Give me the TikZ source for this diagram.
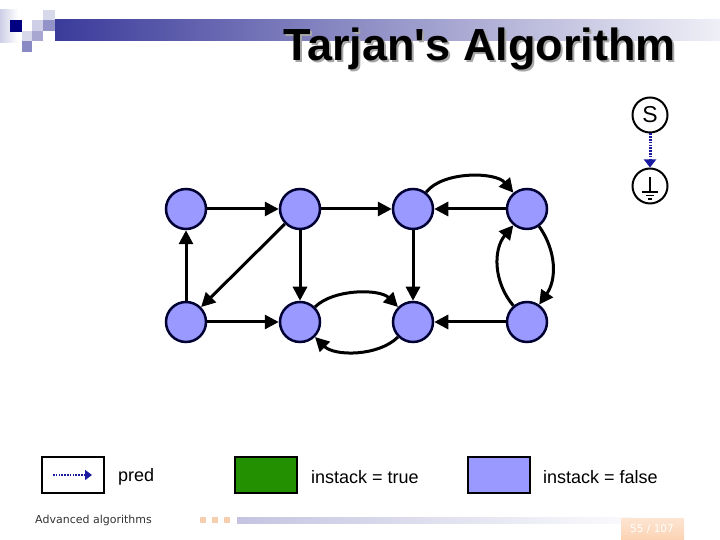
\documentclass[tikz,border=0pt]{standalone}
\usepackage{fontspec}
\setmainfont{Liberation Sans}
\newfontfamily\footfont{DejaVu Sans}
\usetikzlibrary{arrows.meta}
\definecolor{vfill}{HTML}{9999FF}
\definecolor{vdraw}{HTML}{000033}
\definecolor{greenbox}{HTML}{229000}
\definecolor{predblue}{HTML}{1A1AA0}
\definecolor{barblue}{HTML}{3B3B9B}
\definecolor{peach}{HTML}{FBD2B2}
\definecolor{sqorange}{HTML}{F5CFAE}
\definecolor{footgray}{HTML}{333333}
\begin{document}
\begin{tikzpicture}[x=1pt,y=1pt,
  vert/.style={circle, fill=vfill, draw=vdraw, line width=2.5pt, minimum size=40pt, inner sep=0pt},
  edge/.style={line width=3pt, -{Triangle[length=14pt,width=14pt]}},
  predarrow/.style={predblue, line width=3pt, dash pattern=on 1.6pt off 1.2pt, -{Triangle[length=8pt,width=12pt]}},
  specnode/.style={circle, draw=black, line width=2pt, minimum size=35pt, inner sep=0pt, fill=white},
  legbox/.style={draw=black, line width=2.5pt, minimum width=62pt, minimum height=36pt, inner sep=0pt},
  legtext/.style={anchor=west, font=\fontsize{18}{20}\selectfont, inner sep=0pt},
  titlefont/.style={font=\bfseries\fontsize{45}{50}\selectfont}]
\useasboundingbox (0,0) rectangle (720,540);
% header decoration
\shade[left color=barblue, right color=barblue!8] (55,499) rectangle (720,520);
\shade[left color=barblue!25, right color=white] (0,497) rectangle (18,530);
\fill[barblue!20] (43,519) rectangle (55,530);
\fill[barblue!55] (43,509) rectangle (55,520);
\fill[barblue!25] (32,509) rectangle (43,520);
\fill[blue!50!black] (10,508) rectangle (22,520);
\fill[barblue!20] (22,499) rectangle (32,509);
\fill[barblue!45] (32,499) rectangle (43,509);
\fill[barblue!60] (22,488) rectangle (32,499);
% title
\node[anchor=base west, inner sep=0pt, text=black!35, titlefont] (tshadow) at (285,477) {Tarjan\textquotesingle s Algorithm};
\node[anchor=base west, inner sep=0pt, titlefont] (title) at (283,479) {Tarjan\textquotesingle s Algorithm};
% S and ground
\node[specnode, font=\fontsize{23}{25}\selectfont] (S) at (650,425) {S};
\node[specnode] (G) at (650,354) {};
\draw[line width=1.5pt] (650,363) -- (650,348);
\draw[line width=1.5pt] (642,348) -- (658,348);
\draw[line width=1.2pt] (646,344.5) -- (654,344.5);
\draw[line width=1.2pt] (648,341) -- (652,341);
\draw[predarrow] (S) -- (G);
% graph
\node[vert] (a1) at (186,331) {};
\node[vert] (a2) at (300,331) {};
\node[vert] (a3) at (413,331) {};
\node[vert] (a4) at (527,331) {};
\node[vert] (b1) at (186,218) {};
\node[vert] (b2) at (300,218) {};
\node[vert] (b3) at (413,218) {};
\node[vert] (b4) at (527,218) {};
\draw[edge] (a1) -- (a2);
\draw[edge] (a2) -- (a3);
\draw[edge] (a4) -- (a3);
\draw[edge] (a3) to[out=52,in=130,looseness=0.8] (a4);
\draw[edge] (a4) to[out=-55,in=55] (b4);
\draw[edge] (b4) to[out=130,in=-130] (a4);
\draw[edge] (b4) -- (b3);
\draw[edge] (a3) -- (b3);
\draw[edge] (b2) to[out=45,in=135,looseness=0.8] (b3);
\draw[edge] (b3) to[out=-135,in=-45,looseness=0.85] (b2);
\draw[edge] (a2) -- (b2);
\draw[edge] (a2) -- (b1);
\draw[edge] (b1) -- (a1);
\draw[edge] (b1) -- (b2);
% legend
\node[legbox, fill=white] (L1) at (73,65) {};
\coordinate (p1) at (53,65);
\coordinate (p2) at (92,65);
\draw[predarrow, line width=2.5pt, -{Triangle[length=7pt,width=10pt]}] (p1) -- (p2);
\node[legtext] (t1) at (118,63) {pred};
\node[legbox, fill=greenbox] (L2) at (266,65) {};
\node[legtext] (t2) at (311,63) {instack = true};
\node[legbox, fill=vfill] (L3) at (499,65) {};
\node[legtext] (t3) at (543,63) {instack = false};
% footer
\node[anchor=west, inner sep=0pt, text=footgray, font=\footfont\fontsize{11}{13}\selectfont] (foot) at (35,20) {Advanced algorithms};
\fill[sqorange] (200,17) rectangle (206,23);
\fill[sqorange] (212,17) rectangle (218,23);
\fill[sqorange] (224,17) rectangle (230,23);
\shade[left color=barblue!30, right color=white] (237,16) rectangle (660,22);
\shade[top color=peach!60, bottom color=peach] (621,0) rectangle (684,21);
\node[text=white, font=\footfont\fontsize{10.5}{12}\selectfont] (pg) at (652,11) {55 / 107};
\end{tikzpicture}
\end{document}
